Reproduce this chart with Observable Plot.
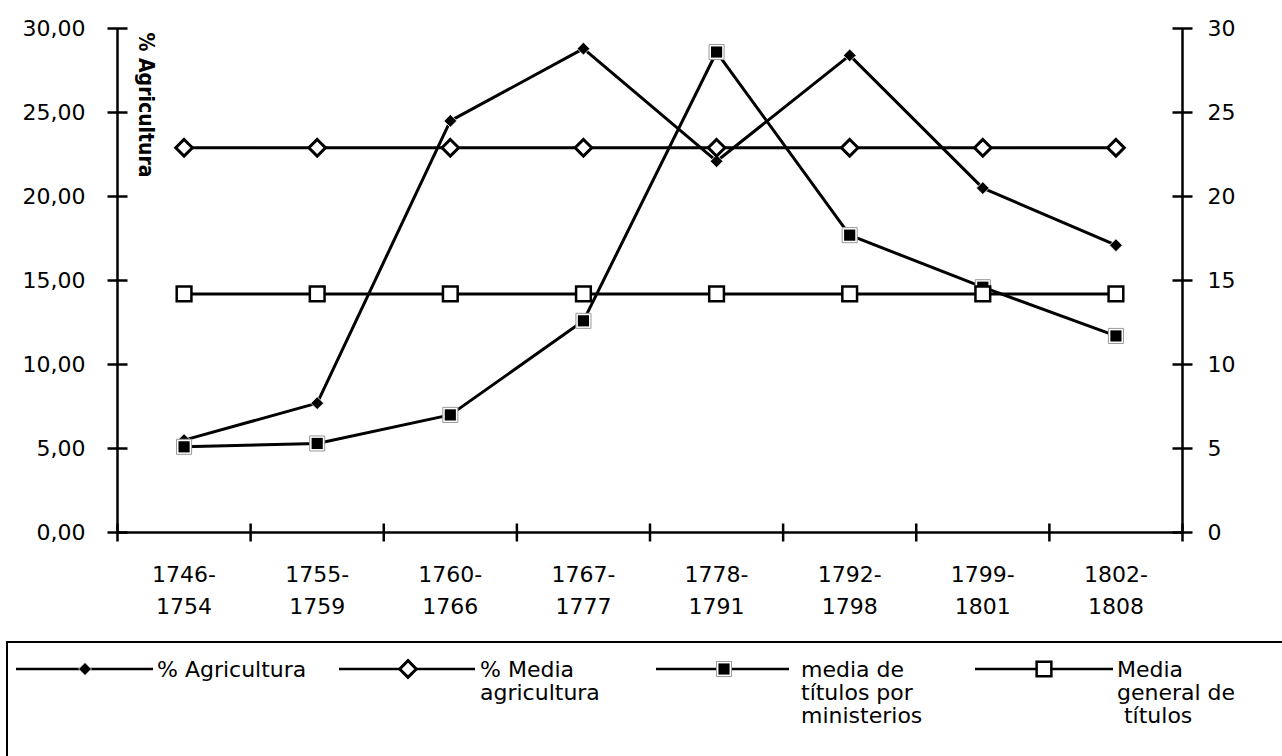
<!DOCTYPE html>
<html><head><meta charset="utf-8">
<script src="https://cdn.jsdelivr.net/npm/d3@7"></script>
<script src="https://cdn.jsdelivr.net/npm/@observablehq/plot@0.6"></script>
<style>
html,body{margin:0;padding:0;background:#fff;overflow:hidden;width:1282px;height:756px;position:relative}
#chart svg{display:block}
#legend{position:absolute;left:6px;top:641px;width:1400px;height:200px;border:2px solid #000;box-sizing:border-box;font-family:"DejaVu Sans",sans-serif;font-size:22px;color:#000}
#legend .lt{position:absolute;white-space:pre;line-height:23px}
</style></head><body>
<div id="chart"></div>
<div id="legend"></div>
<script>
const categories = ["1746-1754","1755-1759","1760-1766","1767-1777","1778-1791","1792-1798","1799-1801","1802-1808"];
const agricultura = [5.5, 7.7, 24.5, 28.8, 22.1, 28.4, 20.5, 17.1];
const mediaAgricultura = [22.9, 22.9, 22.9, 22.9, 22.9, 22.9, 22.9, 22.9];
const titulos = [5.1, 5.3, 7.0, 12.6, 28.6, 17.7, 14.6, 11.7];
const mediaGeneral = [14.2, 14.2, 14.2, 14.2, 14.2, 14.2, 14.2, 14.2];
const seriesNames = ["% Agricultura", "% Media\nagricultura", "media de\ntítulos por\nministerios", "Media\ngeneral de\n títulos"];
const yTicks = [0, 5, 10, 15, 20, 25, 30];
const axisTitle = "% Agricultura";

const hTick = {draw(ctx, size){const r = Math.sqrt(size/Math.PI); ctx.moveTo(-r,0); ctx.lineTo(r,0);}};
const vTick = {draw(ctx, size){const r = Math.sqrt(size/Math.PI); ctx.moveTo(0,-r); ctx.lineTo(0,r);}};
const idx = d3.range(categories.length);
const bounds = d3.range(categories.length + 1).map(i => i - 0.5);
const rows = vals => vals.map((v, i) => ({i, v}));
const L = {x: "i", y: "v", stroke: "#000", strokeWidth: 3};

const chart = Plot.plot({
  width: 1282, height: 640,
  marginLeft: 117, marginRight: 100, marginTop: 28, marginBottom: 108,
  x: {type: "linear", domain: [bounds[0], bounds[bounds.length-1]], label: null},
  y: {domain: [0, 30], label: null},
  style: {fontFamily: "DejaVu Sans", fontSize: "22px", color: "#000", background: "#fff"},
  marks: [
    Plot.ruleX([bounds[0], bounds[bounds.length-1]], {stroke: "#000", strokeWidth: 2.5}),
    Plot.ruleY([0], {stroke: "#000", strokeWidth: 2.5}),
    Plot.dot(yTicks, {y: d => d, frameAnchor: "left", symbol: hTick, r: 10, fill: "none", stroke: "#000", strokeWidth: 2.5}),
    Plot.dot(yTicks, {y: d => d, frameAnchor: "right", symbol: hTick, r: 10, fill: "none", stroke: "#000", strokeWidth: 2.5}),
    Plot.dot(bounds, {x: d => d, frameAnchor: "bottom", symbol: vTick, r: 9, fill: "none", stroke: "#000", strokeWidth: 2.5}),
    Plot.axisY({ticks: yTicks, anchor: "left", tickSize: 0, tickPadding: 32, fontSize: 22, tickFormat: d => d.toFixed(2).replace(".", ","), label: null}),
    Plot.axisY({ticks: yTicks, anchor: "right", tickSize: 0, tickPadding: 25, fontSize: 22, tickFormat: d => String(d), label: null}),
    Plot.axisX({ticks: idx, tickSize: 0, tickPadding: 27, fontSize: 22, lineHeight: 1.45, tickFormat: i => categories[i].replace("-", "-\n"), label: null}),
    Plot.text([axisTitle], {frameAnchor: "top-left", rotate: 90, textAnchor: "start", lineAnchor: "middle", dx: 28, dy: 4, fontFamily: "DejaVu Sans Condensed", fontWeight: "bold", fontSize: 21}),
    Plot.line(rows(mediaGeneral), L),
    Plot.line(rows(mediaAgricultura), L),
    Plot.line(rows(titulos), L),
    Plot.line(rows(agricultura), L),
    Plot.dot(rows(agricultura), {x: "i", y: "v", symbol: "diamond2", r: 5.8, fill: "#000", stroke: "#fff", strokeWidth: 0.8}),
    Plot.dot(rows(titulos), {x: "i", y: "v", symbol: "square", r: 8.5, fill: "#fff", stroke: "#999", strokeWidth: 1}),
    Plot.dot(rows(titulos), {x: "i", y: "v", symbol: "square", r: 6.3, fill: "#000"}),
    Plot.dot(rows(mediaAgricultura), {x: "i", y: "v", symbol: "diamond2", r: 7.5, fill: "#fff", stroke: "#000", strokeWidth: 3}),
    Plot.dot(rows(mediaGeneral), {x: "i", y: "v", symbol: "square", r: 8.3, fill: "#fff", stroke: "#000", strokeWidth: 2.5})
  ]
});
document.getElementById("chart").appendChild(chart);

// legend
const legend = d3.select("#legend");
const lsvg = legend.append("svg").attr("width", 1400).attr("height", 150)
  .style("position", "absolute").style("left", "0px").style("top", "0px");
const rowY = 26;
const items = [
  {x0: 8, x1: 145, m: 77, t: 149, sym: [{type: d3.symbolDiamond2, r: 5.8, fill: "#000", stroke: "#fff", sw: 0.8}]},
  {x0: 331, x1: 467, m: 400, t: 472, sym: [{type: d3.symbolDiamond2, r: 7.5, fill: "#fff", stroke: "#000", sw: 3}]},
  {x0: 648, x1: 781, m: 716, t: 793, sym: [{type: d3.symbolSquare, r: 8.5, fill: "#fff", stroke: "#999", sw: 1}, {type: d3.symbolSquare, r: 6.3, fill: "#000", stroke: "none", sw: 0}]},
  {x0: 967, x1: 1105, m: 1036, t: 1109, sym: [{type: d3.symbolSquare, r: 8.3, fill: "#fff", stroke: "#000", sw: 2.5}]}
];
items.forEach((it, k) => {
  lsvg.append("line").attr("x1", it.x0).attr("x2", it.x1).attr("y1", rowY).attr("y2", rowY)
    .attr("stroke", "#000").attr("stroke-width", 2.5);
  it.sym.forEach(s => {
    lsvg.append("path").attr("d", d3.symbol(s.type, s.r * s.r * Math.PI)())
      .attr("transform", `translate(${it.m},${rowY})`)
      .attr("fill", s.fill).attr("stroke", s.stroke).attr("stroke-width", s.sw);
  });
  legend.append("div").attr("class", "lt").style("left", it.t + "px").style("top", (rowY - 11.5) + "px")
    .text(seriesNames[k]);
});
</script></body></html>
